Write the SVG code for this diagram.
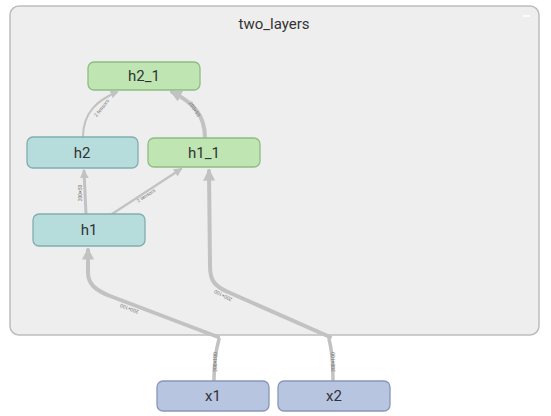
<svg xmlns="http://www.w3.org/2000/svg" width="551" height="416" viewBox="0 0 551 416">
<style>
.node text{font-family:Roboto,"Liberation Sans",sans-serif;font-size:15px;fill:#333;text-anchor:middle}
.teal rect{fill:#b6dcdb;stroke:#80aeb0;stroke-width:1.3}
.green rect{fill:#bfe5b3;stroke:#8fbc83;stroke-width:1.3}
.blue rect{fill:#b8c5e1;stroke:#8996b8;stroke-width:1.3}
.edge{fill:none;stroke:#c2c2c2;stroke-linecap:round}
.lbl{font-family:Roboto,"Liberation Sans",sans-serif;font-size:5px;fill:#777;text-anchor:middle}
</style>
<defs>
<marker id="arr" viewBox="0 0 10 10" refX="8" refY="5" markerWidth="3" markerHeight="3" orient="auto" markerUnits="strokeWidth">
<path d="M0,0 L10,5 L0,10 z" fill="#c2c2c2"/>
</marker>
<marker id="arrs" viewBox="0 0 10 10" refX="8" refY="5" markerWidth="4" markerHeight="4" orient="auto" markerUnits="strokeWidth">
<path d="M0,0 L10,5 L0,10 z" fill="#c2c2c2"/>
</marker>
</defs>
<rect width="551" height="416" fill="#fff"/>
<g id="two_layers">
<rect x="10" y="6" width="529" height="329" rx="9" fill="#eeeeee" stroke="#bdbdbd" stroke-width="1.5"/>
<text x="274" y="29" style="font-family:Roboto,'Liberation Sans',sans-serif;font-size:15px;fill:#333;text-anchor:middle">two_layers</text>
<line x1="523" y1="16" x2="530" y2="16" stroke="#fff" stroke-width="1.5"/>
</g>
<g id="connectors">
<path class="edge" d="M83,137 C83,112 98,100 117,92" stroke-width="2" marker-end="url(#arrs)"/>
<path class="edge" d="M205,138 C205,114 192,102 172,92" stroke-width="4" marker-end="url(#arr)"/>
<path class="edge" d="M86,214 L84,171" stroke-width="3" marker-end="url(#arr)"/>
<path class="edge" d="M112,214 L181,169" stroke-width="2.2" marker-end="url(#arrs)"/>
<path class="edge" d="M218,337 L110,296 C95,290 88,284 88,272 L88,250" stroke-width="4" marker-end="url(#arr)"/>
<path class="edge" d="M330,337 L228,292 C214,286 210,280 210,266 L209,171" stroke-width="4" marker-end="url(#arr)"/>
<path class="edge" d="M214,380 C214,360 216,350 219,339" stroke-width="3.5"/>
<path class="edge" d="M333,380 C333,360 332,350 329,339" stroke-width="3.5"/>
<text class="lbl" transform="translate(103,109) rotate(-52)">2 tensors</text>
<text class="lbl" transform="translate(193,110) rotate(58)">200×50</text>
<text class="lbl" transform="translate(82,193) rotate(-90)">200×50</text>
<text class="lbl" transform="translate(147,197) rotate(-33)">2 tensors</text>
<text class="lbl" transform="translate(130,307) rotate(-159)">200×100</text>
<text class="lbl" transform="translate(224,294) rotate(-152)">200×100</text>
<text class="lbl" transform="translate(217,362) rotate(-90)">200×100</text>
<text class="lbl" transform="translate(335,362) rotate(-90)">200×100</text>
</g>
<g id="h2_1" class="node green"><rect x="88" y="62" width="112" height="28" rx="6"/><text x="144" y="81">h2_1</text></g>
<g id="h2" class="node teal"><rect x="27" y="137" width="111" height="31" rx="6"/><text x="82" y="158">h2</text></g>
<g id="h1_1" class="node green"><rect x="148" y="138" width="112" height="29" rx="6"/><text x="204" y="158">h1_1</text></g>
<g id="h1" class="node teal"><rect x="33" y="214" width="112" height="32" rx="6"/><text x="89" y="235">h1</text></g>
<g id="x1" class="node blue"><rect x="157" y="381" width="112" height="30" rx="6"/><text x="213" y="401">x1</text></g>
<g id="x2" class="node blue"><rect x="278" y="381" width="112" height="30" rx="6"/><text x="334" y="401">x2</text></g>
</svg>
